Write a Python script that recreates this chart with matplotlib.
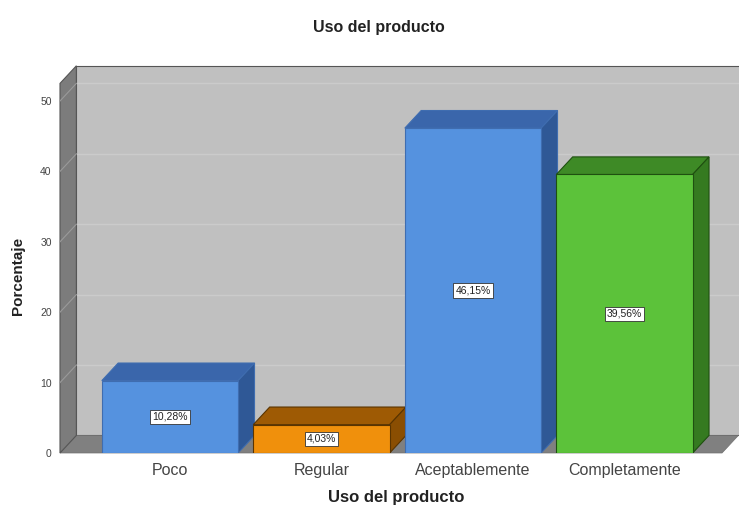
import matplotlib.pyplot as plt
from matplotlib.patches import Polygon

plt.rcParams['font.family'] = ['Liberation Sans', 'DejaVu Sans']

categories = ['Poco', 'Regular', 'Aceptablemente', 'Completamente']
values = [10.28, 4.03, 46.15, 39.56]
labels = ['10,28%', '4,03%', '46,15%', '39,56%']
front_colors = ['#5592df', '#f0900c', '#5592df', '#5cc23a']
top_colors = ['#3a66ab', '#9e5a04', '#3a66ab', '#3e8a26']
side_colors = ['#2f5896', '#8a4e02', '#2f5896', '#357a20']
edge_colors = ['#3f6db0', '#5a3400', '#3f6db0', '#1f5010']
yticks = [0, 10, 20, 30, 40, 50]

W, H = 739, 511
fig = plt.figure(figsize=(W / 100, H / 100), dpi=100)

# axes placed so that the front plane maps to pixels
x0, x1 = -0.726, 3.78
y0, y1 = 0, 55.3
px_left = 60
px_w = (x1 - x0) * 151.5
px_bottom = H - 453
px_h = y1 * 7.04
ax = fig.add_axes([px_left / W, px_bottom / H, px_w / W, px_h / H])
ax.set_xlim(x0, x1)
ax.set_ylim(y0, y1)
for s in ax.spines.values():
    s.set_visible(False)

dx, dy = 0.108, 2.5
xl, xr = x0, 3.644
ytop = 52.5

# back wall
ax.add_patch(Polygon([(xl + dx, dy), (xr + dx + 0.2, dy), (xr + dx + 0.2, ytop + dy), (xl + dx, ytop + dy)],
                     closed=True, facecolor='#c0c0c0', edgecolor='#555555', lw=0.8, clip_on=False, zorder=1))
for v in yticks[1:]:
    ax.plot([xl + dx, xr + dx + 0.2], [v + dy, v + dy], color='#cbcbcb', lw=1.0, clip_on=False, zorder=1.5)
# floor
ax.add_patch(Polygon([(xl, 0), (xr, 0), (xr + dx, dy), (xl + dx, dy)],
                     closed=True, facecolor='#808080', edgecolor='#707070', lw=0.5, clip_on=False, zorder=2))
# left wall
ax.add_patch(Polygon([(xl, 0), (xl, ytop), (xl + dx, ytop + dy), (xl + dx, dy)],
                     closed=True, facecolor='#7c7c7c', edgecolor='#555555', lw=0.8, clip_on=False, zorder=2))
for v in yticks[1:]:
    ax.plot([xl, xl + dx], [v, v + dy], color='#9a9a9a', lw=0.8, clip_on=False, zorder=2.5)

bw = 0.9
for i, v in enumerate(values):
    a, b = i - bw / 2, i + bw / 2
    ax.add_patch(Polygon([(a, v), (b, v), (b + dx, v + dy), (a + dx, v + dy)],
                         closed=True, facecolor=top_colors[i], edgecolor=edge_colors[i], lw=0.8, zorder=3 + i))
    ax.add_patch(Polygon([(b, 0), (b + dx, dy), (b + dx, v + dy), (b, v)],
                         closed=True, facecolor=side_colors[i], edgecolor=edge_colors[i], lw=0.8, zorder=3 + i))
    ax.add_patch(Polygon([(a, 0), (b, 0), (b, v), (a, v)],
                         closed=True, facecolor=front_colors[i], edgecolor=edge_colors[i], lw=0.8, zorder=3.1 + i))
    ax.text(i, v / 2, labels[i], ha='center', va='center', fontsize=7.5, color='#222222', zorder=10,
            bbox=dict(boxstyle='square,pad=0.2', facecolor='white', edgecolor='#333333', lw=0.6))

ax.set_yticks(yticks)
ax.set_yticklabels([str(t) for t in yticks], fontsize=7.5, color='#444444')
ax.tick_params(axis='y', length=0, pad=6)
ax.set_xticks(range(len(categories)))
ax.set_xticklabels(categories, fontsize=11.5, color='#444444')
ax.tick_params(axis='x', length=0, pad=7)

fig.text(18 / W, 1 - 276 / H, 'Porcentaje', rotation=90, ha='center', va='center',
         fontsize=11, fontweight='bold', color='#222222')
fig.text(396 / W, 1 - 497 / H, 'Uso del producto', ha='center', va='center',
         fontsize=12, fontweight='bold', color='#222222')
fig.text(379 / W, 1 - 27 / H, 'Uso del producto', ha='center', va='center',
         fontsize=11.5, fontweight='bold', color='#222222')

fig.savefig('out.png', dpi=100)
